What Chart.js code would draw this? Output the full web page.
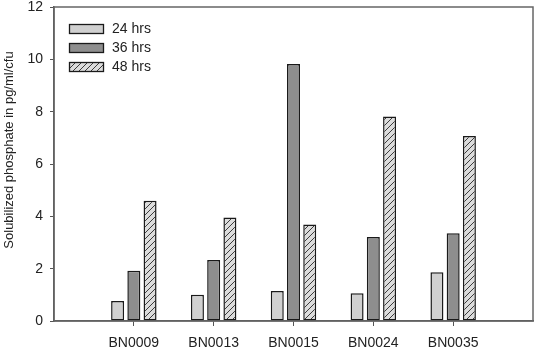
<!DOCTYPE html>
<html>
<head>
<meta charset="utf-8">
<script src="https://cdn.jsdelivr.net/npm/chart.js@4.4.0/dist/chart.umd.min.js"></script>
<style>
  html, body { margin: 0; padding: 0; background: #fff; }
  #wrap { width: 536px; height: 348px; position: relative; }
</style>
</head>
<body>
<div id="wrap"><canvas id="phosChart"></canvas></div>
<script>
// strains on the x axis (blank slots at both ends keep the spacing of the original)
const strains = ["BN0009", "BN0013", "BN0015", "BN0024", "BN0035"];
const seriesNames = ["24 hrs", "36 hrs", "48 hrs"];

// solubilized phosphate, pg/ml/cfu
const hrs24 = [0.76, 1.00, 1.15, 1.06, 1.86];
const hrs36 = [1.92, 2.33, 9.82, 3.21, 3.35];
const hrs48 = [4.60, 3.96, 3.69, 7.82, 7.07];

const yTicks = [0, 2, 4, 6, 8, 10, 12];
const yTitle = "Solubilized phosphate in pg/ml/cfu";

const FONT = "'Liberation Sans', Arial, sans-serif";

// diagonal hatch for the 48 hrs bars
const makeHatch = () => {
  const c = document.createElement("canvas");
  c.width = 6;
  c.height = 6;
  const g = c.getContext("2d");
  g.fillStyle = "#dcdcdc";
  g.fillRect(0, 0, 6, 6);
  g.strokeStyle = "#3c3c3c";
  g.lineWidth = 1;
  g.beginPath();
  g.moveTo(0, 6); g.lineTo(6, 0);
  g.moveTo(-1, 1); g.lineTo(1, -1);
  g.moveTo(5, 7); g.lineTo(7, 5);
  g.stroke();
  return g.createPattern(c, "repeat");
};
const hatch = makeHatch();

const fills = ["#d0d0d0", "#8e8e8e", hatch];
const pad = (arr) => [null, ...arr, null];

// box round the plot, the legend in the top left corner, and the y title
const framePlugin = {
  id: "frame",
  afterDraw(chart) {
    const { ctx, chartArea: a } = chart;
    ctx.save();
    ctx.strokeStyle = "#666";
    ctx.lineWidth = 1.5;
    ctx.strokeRect(a.left, a.top, a.right - a.left, a.bottom - a.top);

    seriesNames.forEach((name, i) => {
      const y = 24.5 + i * 19;
      ctx.fillStyle = fills[i];
      ctx.fillRect(69.5, y, 34, 9);
      ctx.strokeStyle = "#1a1a1a";
      ctx.lineWidth = 1.3;
      ctx.strokeRect(69.5, y, 34, 9);
      ctx.fillStyle = "#222";
      ctx.font = "14px " + FONT;
      ctx.textBaseline = "middle";
      ctx.textAlign = "left";
      ctx.fillText(name, 112, y + 5);
    });

    // y title sits a little above the middle of the axis in the original
    ctx.translate(9, 150);
    ctx.rotate(-Math.PI / 2);
    ctx.font = "13px " + FONT;
    ctx.textAlign = "center";
    ctx.textBaseline = "middle";
    ctx.fillStyle = "#222";
    ctx.fillText(yTitle, 0, 0);
    ctx.restore();
  }
};

const mkSet = (i, vals) => ({
  label: seriesNames[i],
  data: pad(vals),
  backgroundColor: fills[i],
  borderColor: "#1a1a1a",
  borderWidth: 1.5,
  borderSkipped: false,
  categoryPercentage: 0.61,
  barPercentage: 0.8
});

new Chart(document.getElementById("phosChart"), {
  type: "bar",
  data: {
    labels: pad(strains).map(s => s || ""),
    datasets: [mkSet(0, hrs24), mkSet(1, hrs36), mkSet(2, hrs48)]
  },
  options: {
    responsive: true,
    maintainAspectRatio: false,
    animation: false,
    layout: { padding: { top: 7, right: 3, left: 0, bottom: 0 } },
    plugins: {
      legend: { display: false },
      tooltip: { enabled: false }
    },
    scales: {
      x: {
        offset: false,
        grid: {
          offset: false,
          drawOnChartArea: false,
          tickLength: 5,
          tickColor: (c) => (c.index === 0 || c.index === strains.length + 1) ? "rgba(0,0,0,0)" : "#555"
        },
        border: { color: "#555", width: 1.5 },
        ticks: {
          color: "#222",
          font: { family: FONT, size: 14 },
          padding: 9,
          maxRotation: 0,
          autoSkip: false
        },
        afterFit: (s) => {
          s.height = 27;
          s.paddingLeft = 0;
          s.paddingRight = 0;
        }
      },
      y: {
        min: 0,
        max: 12,
        afterBuildTicks: (s) => { s.ticks = yTicks.map(v => ({ value: v })); },
        grid: { drawOnChartArea: false, tickLength: 4, tickColor: "#555" },
        border: { color: "#555", width: 1.5 },
        ticks: {
          color: "#222",
          font: { family: FONT, size: 14 },
          padding: 7
        },
        afterFit: (s) => {
          s.width = 54;
          s.paddingTop = 0;
          s.paddingBottom = 0;
        }
      }
    }
  },
  plugins: [framePlugin]
});
</script>
</body>
</html>
